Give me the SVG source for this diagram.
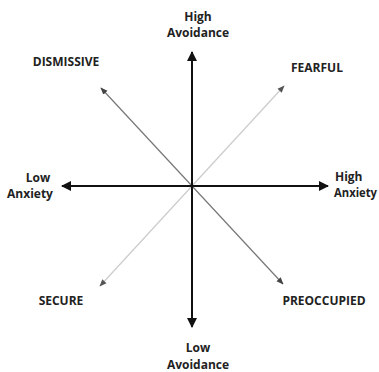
<svg xmlns="http://www.w3.org/2000/svg" width="379" height="372" viewBox="0 0 379 372">
<style>
text{font-family:"Open Sans","Liberation Sans",sans-serif;font-weight:bold;font-size:12px;fill:#222;text-anchor:middle}
.axis{stroke:#111;stroke-width:2;fill:none}
.d1{stroke:#777;stroke-width:1.2;fill:none}
.d2{stroke:#ccc;stroke-width:1.2;fill:none}
</style>
<defs>
<marker id="ah" viewBox="0 0 10 10" refX="9" refY="5" markerWidth="5" markerHeight="5" orient="auto"><path d="M0,0L10,5L0,10z" fill="#111"/></marker>
<marker id="ad" viewBox="0 0 10 10" refX="9" refY="5" markerWidth="6" markerHeight="6" orient="auto"><path d="M0,1L10,5L0,9z" fill="#444"/></marker>
<marker id="al" viewBox="0 0 10 10" refX="9" refY="5" markerWidth="6" markerHeight="6" orient="auto"><path d="M0,1L10,5L0,9z" fill="#555"/></marker>
</defs>
<g id="connectors">
<path class="d1" d="M192,186L101,88" marker-end="url(#ad)"/>
<path class="d1" d="M192,186L283,284" marker-end="url(#ad)"/>
<path class="d2" d="M192,186L284,86" marker-end="url(#al)"/>
<path class="d2" d="M192,186L100,286" marker-end="url(#al)"/>
<path class="axis" d="M192,186V52" marker-end="url(#ah)"/>
<path class="axis" d="M192,186V327" marker-end="url(#ah)"/>
<path class="axis" d="M192,186H62" marker-end="url(#ah)"/>
<path class="axis" d="M192,186H328" marker-end="url(#ah)"/>
</g>
<g id="high-avoidance"><text x="198" y="21">High</text><text x="198" y="37">Avoidance</text></g>
<g id="dismissive"><text x="66" y="66">DISMISSIVE</text></g>
<g id="fearful"><text x="317" y="72">FEARFUL</text></g>
<g id="low-anxiety"><text x="38" y="182">Low</text><text x="30" y="198">Anxiety</text></g>
<g id="high-anxiety"><text x="335" y="181" style="text-anchor:start">High</text><text x="334" y="197" style="text-anchor:start" textLength="43" lengthAdjust="spacingAndGlyphs">Anxiety</text></g>
<g id="secure"><text x="61" y="305">SECURE</text></g>
<g id="preoccupied"><text x="324" y="305">PREOCCUPIED</text></g>
<g id="low-avoidance"><text x="198" y="352">Low</text><text x="198" y="369">Avoidance</text></g>
</svg>
